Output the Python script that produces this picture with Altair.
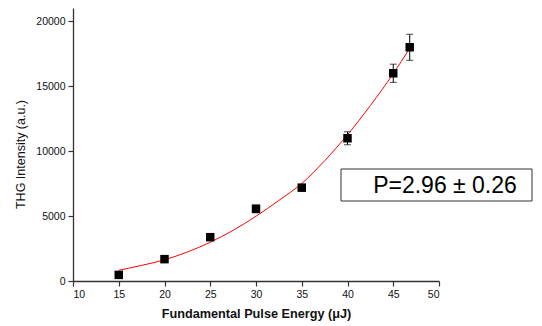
import altair as alt
import pandas as pd

# Measured data
energy = [15, 20, 25, 30, 35, 40, 45, 46.8]
intensity = [470, 1680, 3370, 5550, 7180, 10980, 15980, 17980]
err = [100, 150, 150, 300, 250, 500, 700, 1000]

# Fitted curve
fit_x = [15, 17.5, 20, 22.5, 25, 27.5, 30, 32.5, 35, 37.5, 40, 42.5, 45, 46.8]
fit_y = [830, 1200, 1630, 2230, 2980, 3900, 4980, 6200, 7500, 9250, 11250, 13500, 15950, 17900]

annotation = ["P=2.96 \u00b1 0.26"]

pts = pd.DataFrame({"x": energy, "y": intensity, "lo": [a - b for a, b in zip(intensity, err)],
                    "hi": [a + b for a, b in zip(intensity, err)]})
fit = pd.DataFrame({"x": fit_x, "y": fit_y})

FONT = "Liberation Sans"

xscale = alt.Scale(domain=[10, 50], nice=False, zero=False)
yscale = alt.Scale(domain=[0, 21000], nice=False)

xaxis = alt.Axis(
    title="Fundamental Pulse Energy (\u03bcJ)",
    values=[10 + 2.5 * i for i in range(17)],
    labelExpr="datum.value % 5 === 0 ? datum.label : ''",
    format="d",
    grid=False,
    tickSize={"condition": {"test": "datum.value % 5 === 0", "value": 5}, "value": 3},
    titleFontWeight="bold", titleFontSize=12.7, titlePadding=8,
    labelFontSize=10.5, labelPadding=3,
)
yaxis = alt.Axis(
    title="THG Intensity (a.u.)",
    values=[2500 * i for i in range(9)],
    labelExpr="datum.value % 5000 === 0 ? datum.label : ''",
    format="d",
    grid=False,
    tickSize={"condition": {"test": "datum.value % 5000 === 0", "value": 5}, "value": 3},
    titleFontWeight="normal", titleFontSize=12.5, titlePadding=8, titleY=146,
    labelFontSize=10.5, labelPadding=3,
)

base = alt.Chart(pts)

line = alt.Chart(fit).mark_line(color="#ff0000", strokeWidth=1, interpolate="monotone").encode(
    x=alt.X("x:Q", scale=xscale, axis=xaxis),
    y=alt.Y("y:Q", scale=yscale, axis=yaxis),
)

bars = base.mark_rule(color="black", strokeWidth=1).encode(
    x="x:Q", y="lo:Q", y2="hi:Q"
)
caps_hi = base.mark_tick(color="black", orient="horizontal", size=7, thickness=1).encode(x="x:Q", y="hi:Q")
caps_lo = base.mark_tick(color="black", orient="horizontal", size=7, thickness=1).encode(x="x:Q", y="lo:Q")
squares = base.mark_square(color="black", size=72, opacity=1).encode(x="x:Q", y="y:Q")

box = alt.Chart(pd.DataFrame({"t": annotation})).mark_rect(
    fill="white", stroke="#333333", strokeWidth=1
).encode(x=alt.value(268), x2=alt.value(459), y=alt.value(161), y2=alt.value(193))
label = alt.Chart(pd.DataFrame({"t": annotation})).mark_text(
    font=FONT, fontSize=23, color="black", align="center", baseline="middle"
).encode(text="t:N", x=alt.value(372), y=alt.value(178))

chart = alt.layer(line, bars, caps_hi, caps_lo, squares, box, label).properties(
    width=366, height=273,
    autosize=alt.AutoSizeParams(type="none"),
    padding={"left": 65, "top": 0, "right": 94, "bottom": 43},
).configure_view(stroke=None).configure_axis(
    domainColor="#333333", domainWidth=1.3, tickColor="#333333", tickWidth=1.2,
    labelFont=FONT, titleFont=FONT, labelColor="#111111", titleColor="#111111",
)

chart.save("out.html", embed_options={"renderer": "svg", "actions": False})
